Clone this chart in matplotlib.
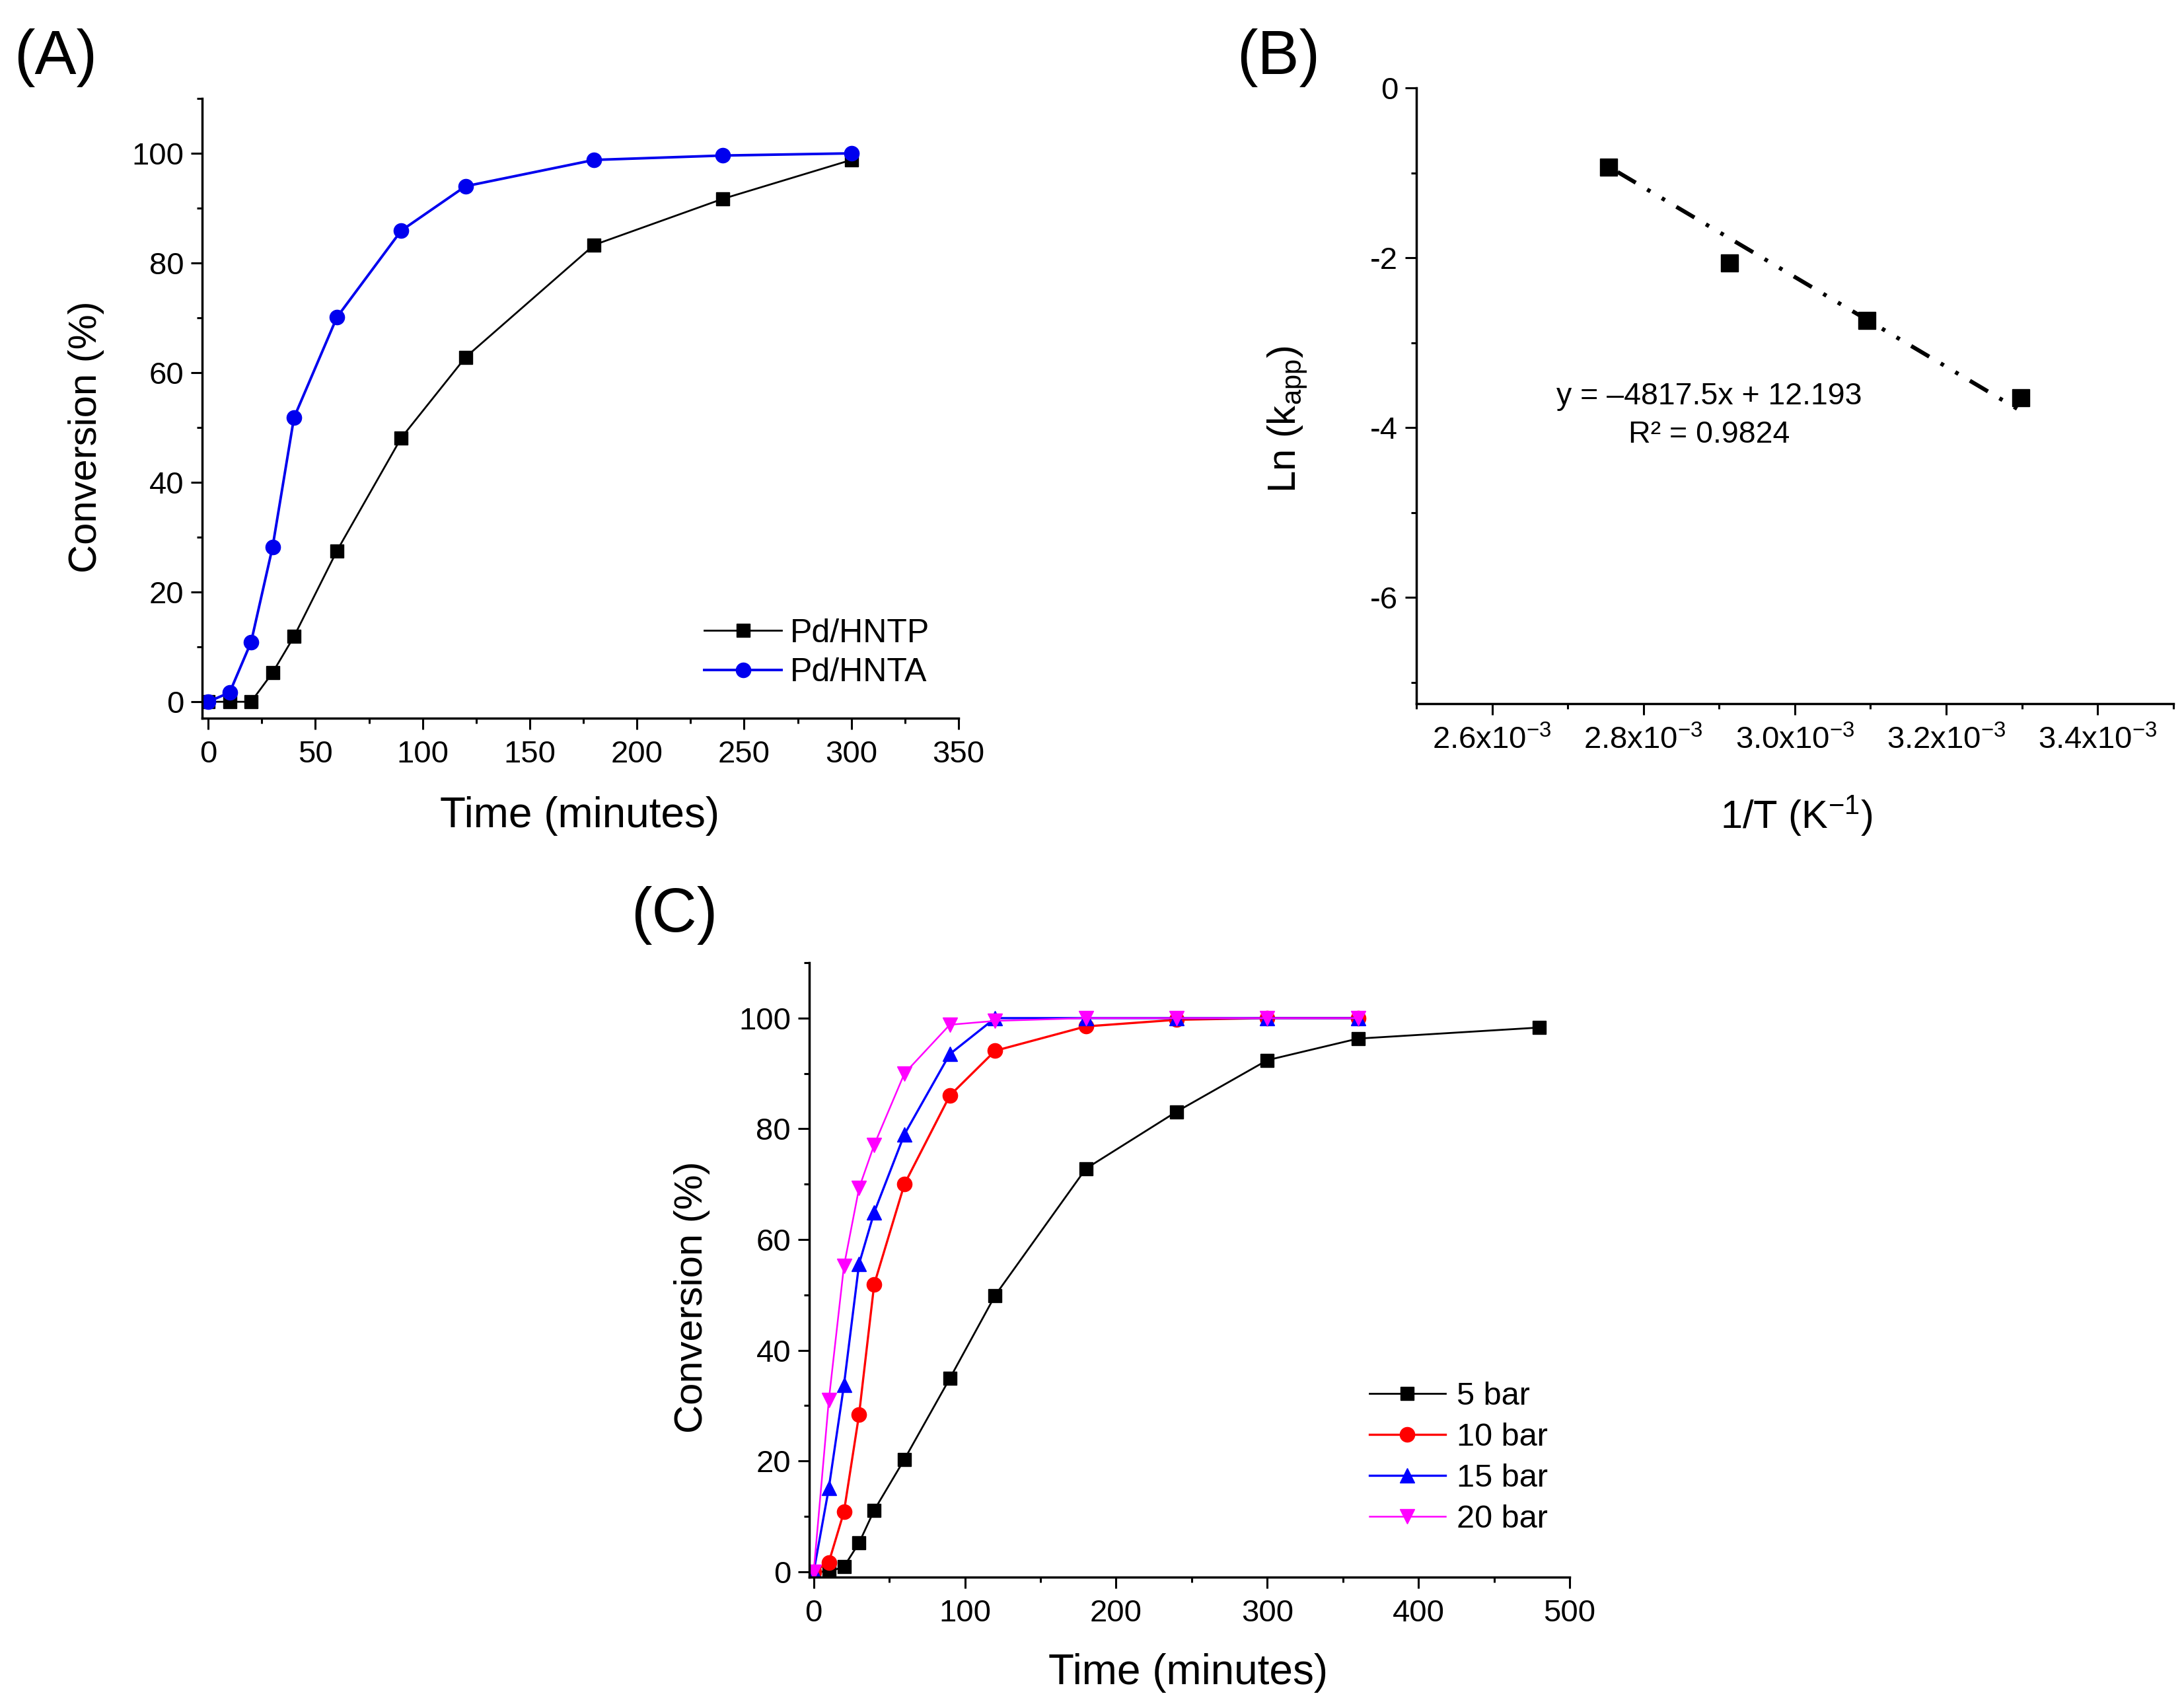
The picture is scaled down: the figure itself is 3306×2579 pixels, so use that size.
import matplotlib
matplotlib.use('Agg')
import matplotlib.pyplot as plt
from matplotlib.ticker import MultipleLocator, FuncFormatter

plt.rcParams['font.family'] = ['Liberation Sans', 'DejaVu Sans']
plt.rcParams['mathtext.fontset'] = 'custom'
plt.rcParams['mathtext.rm'] = 'Liberation Sans'
plt.rcParams['mathtext.it'] = 'Liberation Sans:italic'
plt.rcParams['mathtext.default'] = 'regular'
plt.rcParams['axes.unicode_minus'] = False

# (A) conversion vs time for the two catalysts
time_a = [0, 10, 20, 30, 40, 60, 90, 120, 180, 240, 300]
conv_hntp = [0, 0, 0, 5.3, 11.9, 27.5, 48.1, 62.8, 83.3, 91.7, 98.8]
conv_hnta = [0, 1.7, 10.9, 28.2, 51.8, 70.1, 85.9, 94.0, 98.8, 99.6, 100]

# (B) Arrhenius plot
inv_t = [2.754e-3, 2.914e-3, 3.095e-3, 3.299e-3]
ln_k = [-0.93, -2.06, -2.74, -3.65]
fit_x = [2.766e-3, 3.300e-3]
fit_y = [-0.99, -3.81]
fit_eq = 'y = \u20134817.5x + 12.193'
fit_r2 = 'R\u00b2 = 0.9824'

# (C) conversion vs time at different H2 pressures
time_c = [0, 10, 20, 30, 40, 60, 90, 120, 180, 240, 300, 360]
time_5 = [0, 10, 20, 30, 40, 60, 90, 120, 180, 240, 300, 360, 480]
conv_5 = [0, 0, 0.9, 5.2, 11.1, 20.3, 34.9, 49.9, 72.8, 83.1, 92.4, 96.3, 98.3]
conv_10 = [0, 1.7, 10.8, 28.4, 51.9, 70.0, 86.0, 94.1, 98.5, 99.7, 100, 100]
conv_15 = [0, 15.1, 33.7, 55.6, 64.9, 79.0, 93.5, 100, 100, 100, 100, 100]
conv_20 = [0, 31.0, 55.2, 69.3, 77.1, 90.0, 98.8, 99.5, 100, 100, 100, 100]

fig = plt.figure(figsize=(33.06, 25.79), dpi=100)
fig.patch.set_facecolor('white')

ax_a = fig.add_axes([0.0926, 0.5785, 0.3463, 0.3637])
ax_b = fig.add_axes([0.6485, 0.5870, 0.3466, 0.3614])
ax_c = fig.add_axes([0.3705, 0.0744, 0.3482, 0.3606])


def style_axes(ax, tick_size):
    for side in ['top', 'right']:
        ax.spines[side].set_visible(False)
    for side in ['left', 'bottom']:
        ax.spines[side].set_linewidth(2.5)
    ax.tick_params(which='major', direction='out', length=12, width=2.2,
                   labelsize=tick_size)
    ax.tick_params(which='minor', direction='out', length=6, width=2.2)
    ax.tick_params(axis='x', which='major', pad=12)
    ax.tick_params(axis='y', which='major', pad=8)


# ---- panel A ----
ax_a.plot(time_a, conv_hntp, color='black', lw=2.0, marker='s', ms=15,
          label='Pd/HNTP')
ax_a.plot(time_a, conv_hnta, color='#0000ee', lw=2.8, marker='o', ms=16,
          label='Pd/HNTA')
ax_a.set_xlim(-2.8, 350)
ax_a.set_ylim(-3, 110)
ax_a.xaxis.set_major_locator(MultipleLocator(50))
ax_a.xaxis.set_minor_locator(MultipleLocator(25))
ax_a.yaxis.set_major_locator(MultipleLocator(20))
ax_a.yaxis.set_minor_locator(MultipleLocator(10))
ax_a.set_yticks([0, 20, 40, 60, 80, 100])
style_axes(ax_a, 34)
ax_a.set_xlabel('Time (minutes)', fontsize=46, va='center')
ax_a.set_ylabel('Conversion (%)', fontsize=43, va='center')
ax_a.xaxis.set_label_coords(0.499, -0.158)
ax_a.yaxis.set_label_coords(-0.153, 0.454)
ax_a.legend(loc='center left', bbox_to_anchor=(0.664, 0.105), frameon=False,
            fontsize=36, handlelength=2.34, handletextpad=0.25,
            borderpad=0, borderaxespad=0, labelspacing=0.27)

# ---- panel B ----
ax_b.plot(fit_x, fit_y, color='black', lw=4.4,
          linestyle=(0, (5.2, 3.3, 0.9, 3.3, 0.9, 3.3)))
ax_b.plot(inv_t, ln_k, linestyle='none', marker='s', ms=19, color='black')
ax_b.set_xlim(2.5e-3, 3.5e-3)
ax_b.set_ylim(-7.25, 0)
ax_b.xaxis.set_major_locator(MultipleLocator(0.2e-3))
ax_b.xaxis.set_minor_locator(MultipleLocator(0.1e-3))
ax_b.yaxis.set_major_locator(MultipleLocator(2))
ax_b.yaxis.set_minor_locator(MultipleLocator(1))
ax_b.set_xticks([2.6e-3, 2.8e-3, 3.0e-3, 3.2e-3, 3.4e-3])
ax_b.xaxis.set_major_formatter(
    FuncFormatter(lambda v, p: f'{v * 1e3:.1f}x10$^{{-3}}$'))
ax_b.yaxis.set_major_formatter(FuncFormatter(lambda v, p: f'{v:.0f}'))
style_axes(ax_b, 34)
ax_b.text(2.8866e-3, -3.63, fit_eq, fontsize=33.5, ha='center', va='center')
ax_b.text(2.8866e-3, -4.08, fit_r2, fontsize=33.5, ha='center', va='center')
ax_b.set_xlabel('1/T (K$^{-1}$)', fontsize=43, va='center')
ax_b.set_ylabel('Ln (k$_{app}$)', fontsize=43, va='center')
ax_b.xaxis.set_label_coords(0.502, -0.182)
ax_b.yaxis.set_label_coords(-0.170, 0.462)

# ---- panel C ----
ax_c.plot(time_5, conv_5, color='black', lw=2.0, marker='s', ms=15,
          label='5 bar')
ax_c.plot(time_c, conv_10, color='#ff0000', lw=2.4, marker='o', ms=16,
          label='10 bar')
ax_c.plot(time_c, conv_15, color='#0000ff', lw=2.4, marker='^', ms=16,
          label='15 bar')
ax_c.plot(time_c, conv_20, color='#ff00ff', lw=1.8, marker='v', ms=16,
          label='20 bar')
ax_c.set_xlim(-3, 500)
ax_c.set_ylim(-1, 110)
ax_c.xaxis.set_major_locator(MultipleLocator(100))
ax_c.xaxis.set_minor_locator(MultipleLocator(50))
ax_c.yaxis.set_major_locator(MultipleLocator(20))
ax_c.yaxis.set_minor_locator(MultipleLocator(10))
ax_c.set_yticks([0, 20, 40, 60, 80, 100])
style_axes(ax_c, 34)
ax_c.set_xlabel('Time (minutes)', fontsize=46, va='center')
ax_c.set_ylabel('Conversion (%)', fontsize=43, va='center')
ax_c.xaxis.set_label_coords(0.498, -0.156)
ax_c.yaxis.set_label_coords(-0.154, 0.456)
ax_c.legend(loc='center left', bbox_to_anchor=(0.737, 0.194), frameon=False,
            fontsize=35, handlelength=2.35, handletextpad=0.35,
            borderpad=0, borderaxespad=0, labelspacing=0.35)

# panel letters
fig.text(21 / 3306, 1 - 88 / 2579, '(A)', fontsize=68, ha='left', va='center')
fig.text(1872 / 3306, 1 - 88 / 2579, '(B)', fontsize=68, ha='left', va='center')
fig.text(955 / 3306, 1 - 1385 / 2579, '(C)', fontsize=68, ha='left', va='center')

fig.savefig('out.png', dpi=100, facecolor='white')
